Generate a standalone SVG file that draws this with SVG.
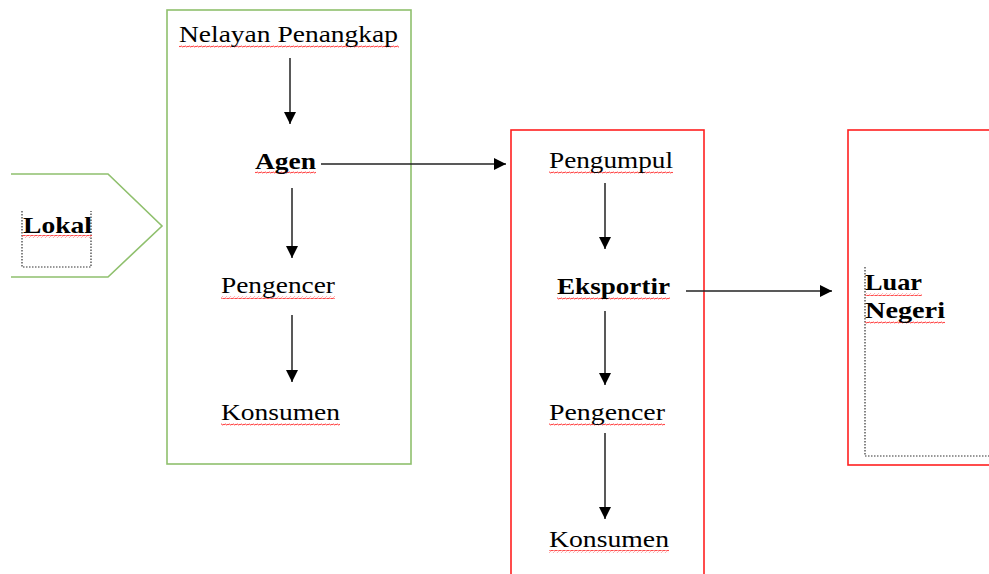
<svg xmlns="http://www.w3.org/2000/svg" width="989" height="574" viewBox="0 0 989 574">
<defs>
<marker id="ah" markerWidth="12" markerHeight="12" refX="12" refY="6" orient="auto" markerUnits="userSpaceOnUse">
<path d="M0,0 L12,6 L0,12 Z" fill="#000"/>
</marker>
<pattern id="sq" width="4" height="3" patternUnits="userSpaceOnUse">
<path d="M0,2.2 L1,0.8 L3,2.2 L4,0.8" stroke="#f33" stroke-width="0.9" fill="none"/>
</pattern>
</defs>
<style>
.t{font-family:"Liberation Serif","Times New Roman",serif;font-size:23px;fill:#000}
.b{font-weight:bold}
.g{fill:none;stroke:#8fc06d;stroke-width:1.6}
.r{fill:none;stroke:#ff2020;stroke-width:1.6}
.d{fill:none;stroke:#333;stroke-width:1.2;stroke-dasharray:1.5,1.5}
.c{stroke:#222;stroke-width:1.5;fill:none;marker-end:url(#ah)}
.u{fill:url(#sq)}
</style>
<rect width="989" height="574" fill="#fff"/>

<g id="lokal">
<path class="g" d="M11,174 L108,174 L162,226 L108,277 L11,277"/>
<path class="d" d="M22,211 L22,267 L91,267 L91,211"/>
<rect class="u" x="22" y="235" width="70" height="3"/>
<text class="t b" x="23" y="233" textLength="69" lengthAdjust="spacingAndGlyphs">Lokal</text>
</g>

<g id="box-lokal">
<rect class="g" x="167" y="10" width="244" height="454"/>
</g>

<g id="nelayan">
<rect class="u" x="179" y="45" width="220" height="3"/>
<text class="t" x="179" y="42" textLength="219" lengthAdjust="spacingAndGlyphs">Nelayan Penangkap</text>
</g>
<g id="agen">
<rect class="u" x="255" y="171" width="61" height="3"/>
<text class="t b" x="255" y="169" textLength="61" lengthAdjust="spacingAndGlyphs">Agen</text>
</g>
<g id="pengencer1">
<rect class="u" x="221" y="296" width="114" height="3"/>
<text class="t" x="221" y="293" textLength="114" lengthAdjust="spacingAndGlyphs">Pengencer</text>
</g>
<g id="konsumen1">
<rect class="u" x="221" y="423" width="119" height="3"/>
<text class="t" x="221" y="420" textLength="119" lengthAdjust="spacingAndGlyphs">Konsumen</text>
</g>

<g id="box-ekspor">
<rect class="r" x="511" y="130" width="193" height="450"/>
</g>
<g id="pengumpul">
<rect class="u" x="549" y="171" width="124" height="3"/>
<text class="t" x="549" y="168" textLength="124" lengthAdjust="spacingAndGlyphs">Pengumpul</text>
</g>
<g id="eksportir">
<rect class="u" x="557" y="297" width="113" height="3"/>
<text class="t b" x="557" y="294" textLength="113" lengthAdjust="spacingAndGlyphs">Eksportir</text>
</g>
<g id="pengencer2">
<rect class="u" x="549" y="423" width="116" height="3"/>
<text class="t" x="549" y="420" textLength="116" lengthAdjust="spacingAndGlyphs">Pengencer</text>
</g>
<g id="konsumen2">
<rect class="u" x="549" y="550" width="120" height="3"/>
<text class="t" x="549" y="547" textLength="120" lengthAdjust="spacingAndGlyphs">Konsumen</text>
</g>

<g id="luar-negeri">
<rect class="r" x="848" y="130" width="150" height="335"/>
<path class="d" d="M865,267 L865,456 L995,456"/>
<rect class="u" x="865" y="293" width="57" height="3"/>
<rect class="u" x="865" y="321" width="80" height="3"/>
<text class="t b" x="865" y="290" textLength="57" lengthAdjust="spacingAndGlyphs">Luar</text>
<text class="t b" x="865" y="318" textLength="80" lengthAdjust="spacingAndGlyphs">Negeri</text>
</g>

<g id="connectors">
<line class="c" x1="290" y1="58" x2="290" y2="124"/>
<line class="c" x1="292" y1="188" x2="292" y2="258"/>
<line class="c" x1="292" y1="315" x2="292" y2="382"/>
<line class="c" x1="321" y1="164" x2="506" y2="164"/>
<line class="c" x1="605" y1="183" x2="605" y2="249"/>
<line class="c" x1="605" y1="311" x2="605" y2="385"/>
<line class="c" x1="605" y1="433" x2="605" y2="519"/>
<line class="c" x1="686" y1="291" x2="832" y2="291"/>
</g>
</svg>
